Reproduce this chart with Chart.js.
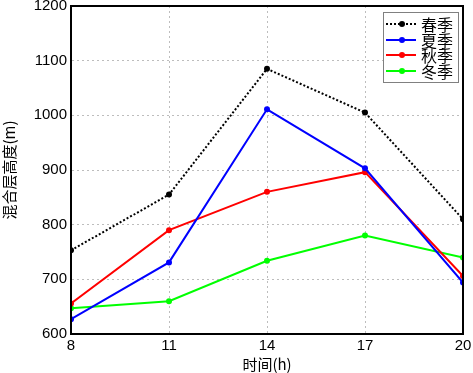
<!DOCTYPE html>
<html><head><meta charset="utf-8">
<script src="https://cdn.jsdelivr.net/npm/chart.js@4/dist/chart.umd.min.js"></script>
<style>html,body{margin:0;padding:0;background:#fff}#wrap{width:473px;height:373px}</style>
</head><body><div id="wrap"><canvas id="c" width="473" height="373"></canvas></div>
<script>
const hours = [8, 11, 14, 17, 20];
const seriesNames = ['春季', '夏季', '秋季', '冬季'];
const spring = [753, 855, 1085, 1005, 810];
const summer = [627, 731, 1011, 903, 694];
const autumn = [656, 790, 860, 896, 706];
const winter = [647, 660, 734, 780, 740];
const yTicks = [600, 700, 800, 900, 1000, 1100, 1200];

const colors = ['#000000', '#0000ff', '#ff0000', '#00ff00'];
const dashes = [[2, 2], [], [], []];
const vals = [spring, summer, autumn, winter];

const datasets = vals.map((v, i) => ({
  label: seriesNames[i],
  data: hours.map((h, j) => ({x: h, y: v[j]})),
  borderColor: colors[i],
  backgroundColor: colors[i],
  borderWidth: 2,
  borderDash: dashes[i],
  pointRadius: 3,
  pointHoverRadius: 3,
  pointBorderWidth: 0,
  tension: 0
}));

const frame = {
  id: 'frame',
  afterDatasetsDraw(chart) {
    const {ctx, chartArea: a} = chart;
    ctx.save();
    ctx.setLineDash([]);
    ctx.strokeStyle = '#000';
    ctx.lineWidth = 2;
    ctx.strokeRect(a.left, a.top, a.right - a.left, a.bottom - a.top);
    // legend
    const lx = 383, ly = 12, lw = 75, lh = 70;
    ctx.fillStyle = '#fff';
    ctx.fillRect(lx, ly, lw, lh);
    ctx.strokeStyle = '#808080';
    ctx.lineWidth = 1;
    ctx.strokeRect(lx + 0.5, ly + 0.5, lw, lh);
    const rows = [24, 40, 55, 71];
    chart.data.datasets.forEach((d, i) => {
      const y = rows[i];
      ctx.strokeStyle = d.borderColor;
      ctx.lineWidth = 2;
      ctx.setLineDash(d.borderDash);
      ctx.beginPath(); ctx.moveTo(386, y); ctx.lineTo(416, y); ctx.stroke();
      ctx.setLineDash([]);
      ctx.fillStyle = d.borderColor;
      ctx.beginPath(); ctx.arc(402, y, 3, 0, Math.PI * 2); ctx.fill();
      ctx.fillStyle = '#000';
      ctx.font = '16px "Noto Sans CJK SC"';
      ctx.textBaseline = 'middle';
      ctx.textAlign = 'left';
      ctx.fillText(d.label, 421, y + 1);
    });
    ctx.restore();
  }
};

const gridOpts = {color: '#bdbdbd', drawTicks: false, lineWidth: 1, borderDash: [2, 3], tickBorderDash: [2, 3]};
const borderOpts = {display: true, color: '#000', width: 2, dash: [2, 3], dashOffset: 0};

new Chart(document.getElementById('c'), {
  type: 'line',
  data: {datasets},
  options: {
    responsive: false,
    animation: false,
    layout: {padding: {top: 6, right: 10, left: 0, bottom: 0}},
    plugins: {legend: {display: false}, tooltip: {enabled: false}},
    scales: {
      x: {
        type: 'linear', min: 8, max: 20,
        afterBuildTicks: s => { s.ticks = hours.map(v => ({value: v})); },
        afterFit: s => { s.height = 39; s.paddingLeft = 0; s.paddingRight = 0; },
        grid: gridOpts,
        border: borderOpts,
        ticks: {color: '#000', font: {family: 'Liberation Sans', size: 15}, padding: 3, maxRotation: 0, callback: v => String(v)},
        title: {display: true, text: '时间(h)', color: '#000', font: {family: 'Noto Sans CJK SC', size: 15}, padding: {top: -3, bottom: 0}}
      },
      y: {
        min: 600, max: 1200,
        afterBuildTicks: s => { s.ticks = yTicks.map(v => ({value: v})); },
        afterFit: s => { s.width = 71; s.paddingTop = 0; s.paddingBottom = 0; },
        grid: gridOpts,
        border: borderOpts,
        ticks: {color: '#000', font: {family: 'Liberation Sans', size: 15}, padding: 4, callback: v => String(v)},
        title: {display: true, text: '混合层高度(m)', color: '#000', font: {family: 'Noto Sans CJK SC', size: 15}, padding: {top: 0, bottom: 0}}
      }
    }
  },
  plugins: [frame]
});
</script></body></html>
